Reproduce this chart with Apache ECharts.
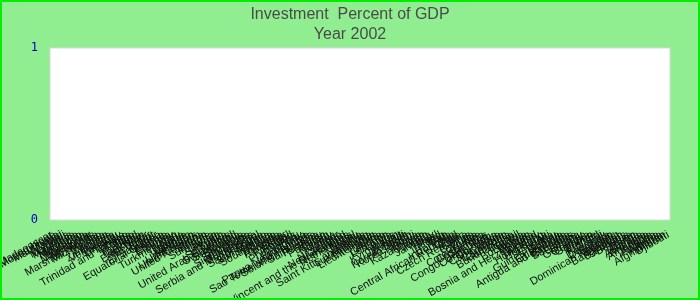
<!DOCTYPE html>
<html><head><meta charset="utf-8">
<script src="https://cdn.jsdelivr.net/npm/echarts@6/dist/echarts.min.js"></script>
<style>html,body{margin:0;padding:0;background:#90EE90;}#c{width:700px;height:300px;}</style>
</head><body><div id="c"></div>
<script>
const titleText = "Investment  Percent of GDP";
const subtitleText = "Year 2002";
const categories = [
"Madagascar","Mozambique","Mauritania","Malawi","Mali","Maldives","Mauritius","Moldova","Mongolia","Morocco",
"Malaysia","Macedonia","Myanmar","Marshall Islands","Micronesia","Mexico","Zambia","Yemen","Zimbabwe","Venezuela",
"Vanuatu","Uruguay","Tunisia","Trinidad and Tobago","Tonga","Togo","Thailand","Tanzania","Tajikistan","East Timor",
"Ecuador","Egypt","El Salvador","Equatorial Guinea","Eritrea","Estonia","Ethiopia","Turkey","Turkmenistan","Tuvalu",
"Uganda","Ukraine","Vietnam","Uzbekistan","United States","United Kingdom","Samoa","Sudan","Suriname","Syria",
"Taiwan","Sweden","Spain","Sri Lanka","United Arab Emirates","Switzerland","Swaziland","Slovakia","Slovenia","Singapore",
"Sierra Leone","Seychelles","Serbia and Montenegro","Senegal","Saudi Arabia","San Marino","Somalia","South Africa","Russia","Rwanda",
"Romania","Qatar","Portugal","Poland","Philippines","Peru","Paraguay","Papua New Guinea","Sao Tome and Principe","Solomon Islands",
"Saint Lucia","Panama","Palau","Pakistan","Oman","Norway","Nigeria","Niger","Nicaragua","New Zealand",
"Saint Vincent and the Grenadines","Netherlands","Nepal","Nauru","Namibia","Saint Kitts and Nevis","Luxembourg","Lithuania","Liechtenstein","Libya",
"Liberia","Lesotho","Lebanon","Latvia","Laos","Kyrgyzstan","Kuwait","Burundi","Korea, South","Korea, North",
"Kiribati","Kenya","Kazakhstan","Jordan","Japan","Jamaica","Italy","Israel","Ireland","Iraq",
"Iran","Indonesia","Central African Republic","Chad","Chile","Czech Republic","China","Cyprus","Cuba","Croatia",
"Cote d'Ivoire","Costa Rica","Comoros","Congo, Dem. Rep.","Congo, Rep.","Colombia","Cape Verde","Canada","Cameroon","Cambodia",
"Burkina Faso","Brunei","Brazil","Botswana","Bolivia","Bhutan","Bosnia and Herzegovina","Iceland","Hungary","Hong Kong",
"Honduras","Haiti","Guyana","Guinea-Bissau","Guinea","Guatemala","Antigua and Barbuda","Grenada","Bahamas","Greece",
"Ghana","Germany","Georgia","Gambia","Gabon","France","Finland","Fiji","Denmark","Dominica",
"Bahrain","Dominican Republic","Belgium","Bangladesh","Barbados","Belarus","Belize","Benin","Austria","Australia",
"Armenia","Argentina","Angola","Andorra","Algeria","Albania","Afghanistan","Djibouti"
];
// The reference shows no bars for 2002 (no data plotted)
const values = [];
const yTicks = [0, 1];

const chart = echarts.init(document.getElementById('c'), null, {renderer:'canvas'});
chart.setOption({
  backgroundColor: '#90EE90',
  animation: false,
  title: {
    text: titleText + "\n" + subtitleText,
    left: 'center', top: 5, padding: 0,
    textStyle: {fontFamily: 'Liberation Sans', fontSize: 16, fontWeight: 'normal', color: '#4a4a4a', lineHeight: 20}
  },
  graphic: [{
    type: 'rect', silent: true, z: 100,
    shape: {x: 1, y: 1, width: 698, height: 298},
    style: {fill: 'none', stroke: '#00ee00', lineWidth: 2}
  }],
  grid: {left: 50, right: 30, top: 48, bottom: 80, show: true, backgroundColor: '#ffffff', borderColor: '#d8d8d8', borderWidth: 1, containLabel: false, outerBoundsMode: 'none'},
  xAxis: {
    type: 'category', data: categories,
    axisLine: {show: false}, axisTick: {show: false},
    axisLabel: {interval: 0, rotate: 30, margin: 14, fontFamily: 'Liberation Sans', fontSize: 11, color: '#111', hideOverlap: false}
  },
  yAxis: {
    type: 'value', min: yTicks[0], max: yTicks[yTicks.length-1], interval: 1,
    axisLine: {show: false}, axisTick: {show: false}, splitLine: {show: false},
    axisLabel: {margin: 12, fontFamily: 'DejaVu Sans Mono', fontSize: 12, color: '#0000bb'}
  },
  series: [{type: 'bar', data: values}]
});
</script></body></html>
